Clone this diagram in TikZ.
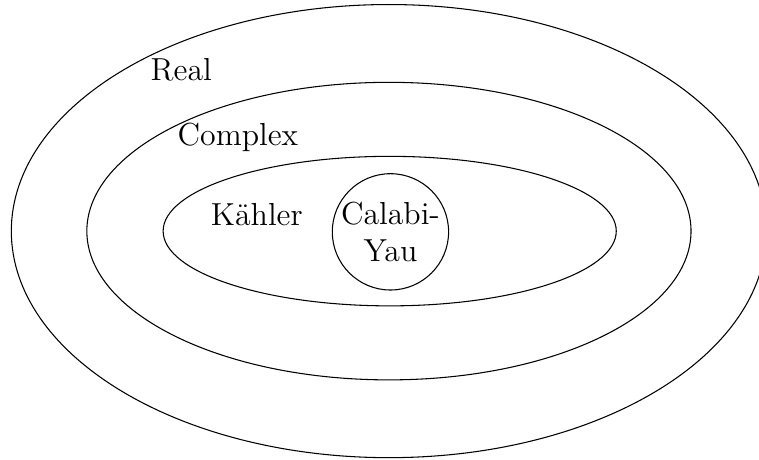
\documentclass[tikz,border=0pt]{standalone}
\begin{document}
\begin{tikzpicture}[
  setline/.style={draw, line width=0.4pt},
  setlabel/.style={anchor=base, font=\large, inner sep=0pt}
]
\useasboundingbox (-5.15,-3.02) rectangle (4.90,3.07);
\draw[setline] (0,0.01) ellipse [x radius=5cm, y radius=3cm];
\draw[setline] (0,0.01) ellipse [x radius=4cm, y radius=1.97cm];
\draw[setline] (0.01,0.01) ellipse [x radius=3cm, y radius=0.99cm];
\node[setline, circle, minimum size=1.54cm, inner sep=0pt, align=center, font=\large] (cy) at (0.02,0) {Calabi-\\Yau};
\node[setlabel] (real) at (-2.75,2.0) {Real};
\node[setlabel] (complex) at (-2.0,1.15) {Complex};
\node[setlabel] (kahler) at (-1.75,0.09) {Kähler};
\end{tikzpicture}
\end{document}
